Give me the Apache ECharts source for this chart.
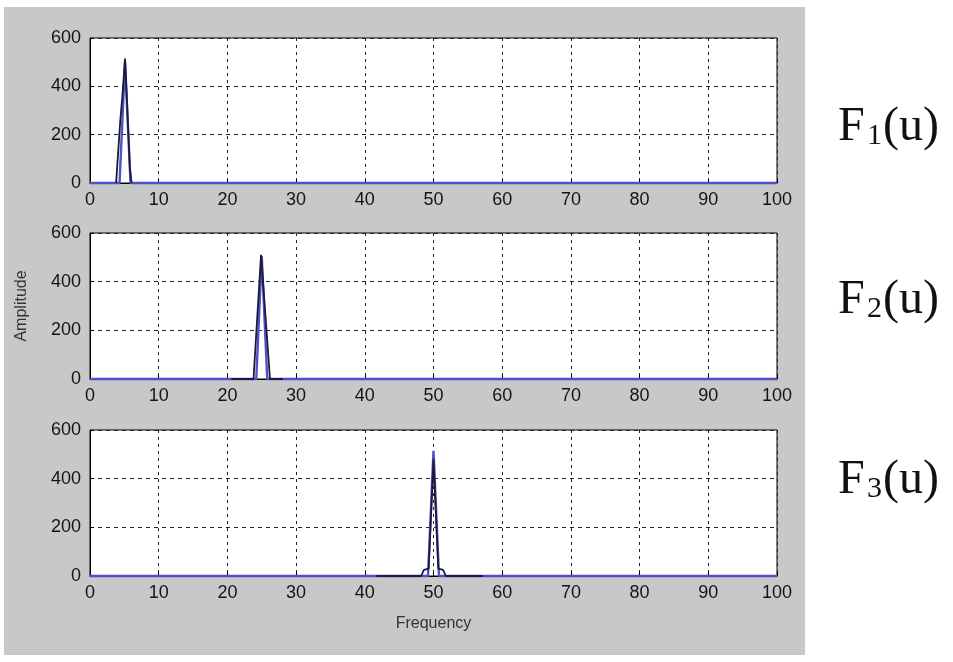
<!DOCTYPE html>
<html>
<head>
<meta charset="utf-8">
<script src="https://cdn.jsdelivr.net/npm/echarts@6/dist/echarts.min.js"></script>
<style>
html,body{margin:0;padding:0;background:#fff;}
#c{width:953px;height:662px;}
</style>
</head>
<body>
<div id="c"></div>
<script>
// ---- data ----
var xTicks = [0,10,20,30,40,50,60,70,80,90,100];
var yTicks = [0,200,400,600];
// panel 1 (F1)
var f1Blue  = [[0,0],[4.3,0],[5.1,500],[5.9,0],[100,0]];
var f1Black = [[3.8,0],[4.4,255],[4.7,355],[5.1,515],[5.4,325],[5.8,65],[6.05,0]];
// panel 2 (F2)
var f2Blue  = [[0,0],[24.2,0],[25.0,505],[25.8,0],[100,0]];
var f2Black = [[20.6,0],[23.8,0],[24.9,510],[26.2,0],[28.1,0]];
// panel 3 (F3)
var f3Blue  = [[0,0],[49.2,0],[50.0,515],[50.8,0],[100,0]];
var f3Black = [[41.7,0],[48.2,0],[48.6,25],[49.3,30],[50.0,480],[50.7,30],[51.4,25],[51.8,0],[57.2,0]];
var panelLabels = ['1','2','3'];

// ---- chart ----
var chart = echarts.init(document.getElementById('c'), null, {renderer:'canvas'});
var grids = [
  {left:90, top:38,  width:687, height:145},
  {left:90, top:233, width:687, height:146},
  {left:90, top:430, width:687, height:146}
];
var axisFont = {color:'#141414', fontSize:18, fontFamily:'Liberation Sans'};
var xAxes = [], yAxes = [], series = [];
var blues = [f1Blue, f2Blue, f3Blue];
var blacks = [f1Black, f2Black, f3Black];
for (var i = 0; i < 3; i++) {
  grids[i].show = true;
  grids[i].backgroundColor = '#ffffff';
  grids[i].borderColor = '#000';
  grids[i].borderWidth = 1;
  xAxes.push({
    type:'value', gridIndex:i, min:xTicks[0], max:xTicks[xTicks.length-1], interval:10,
    axisLine:{show:true, lineStyle:{color:'#000', width:1}},
    axisTick:{show:true, inside:true, length:4, lineStyle:{color:'#000'}},
    axisLabel:Object.assign({margin:8}, axisFont),
    splitLine:{show:true, lineStyle:{color:'#222', type:[3,4], width:1}},
    name: i === 2 ? 'Frequency' : '',
    nameLocation:'middle', nameGap:40,
    nameTextStyle:{color:'#333', fontSize:16, fontFamily:'Liberation Sans'}
  });
  yAxes.push({
    type:'value', gridIndex:i, min:yTicks[0], max:yTicks[yTicks.length-1], interval:200,
    axisLine:{show:true, lineStyle:{color:'#000', width:1}},
    axisTick:{show:true, inside:true, length:4, lineStyle:{color:'#000'}},
    axisLabel:Object.assign({margin:9}, axisFont),
    splitLine:{show:true, lineStyle:{color:'#222', type:[4,4], width:1}},
    name: i === 1 ? 'Amplitude' : '',
    nameLocation:'middle', nameGap:60, nameRotate:90,
    nameTextStyle:{color:'#333', fontSize:16, fontFamily:'Liberation Sans'}
  });
  series.push({
    type:'line', xAxisIndex:i, yAxisIndex:i, data:blues[i], symbol:'none',
    lineStyle:{color:'#5050c8', width:2.4}, clip:false, z:3, animation:false
  });
  series.push({
    type:'line', xAxisIndex:i, yAxisIndex:i, data:blacks[i], symbol:'none',
    lineStyle:{color:'#1a1a3a', width:1.8}, clip:false, z:4, animation:false
  });
}

var labelY = [130, 303, 483];
var graphics = [{
  type:'rect', z:-10, silent:true,
  shape:{x:4, y:7, width:801, height:648},
  style:{fill:'#c8c8c8'}
}];
for (var j = 0; j < 3; j++) {
  graphics.push({
    type:'group', left:838, top:labelY[j]-27, z:10,
    children:[
      {type:'text', x:0, y:0, style:{text:'F', font:'48px "Liberation Serif"', fill:'#111', textVerticalAlign:'top'}},
      {type:'text', x:29, y:18, style:{text:panelLabels[j], font:'30px "Liberation Serif"', fill:'#111', textVerticalAlign:'top'}},
      {type:'text', x:45, y:0, style:{text:'(u)', font:'48px "Liberation Serif"', fill:'#111', textVerticalAlign:'top'}}
    ]
  });
}

chart.setOption({
  animation:false,
  backgroundColor:'#ffffff',
  grid:grids,
  xAxis:xAxes,
  yAxis:yAxes,
  series:series,
  graphic:graphics
});
</script>
</body>
</html>
